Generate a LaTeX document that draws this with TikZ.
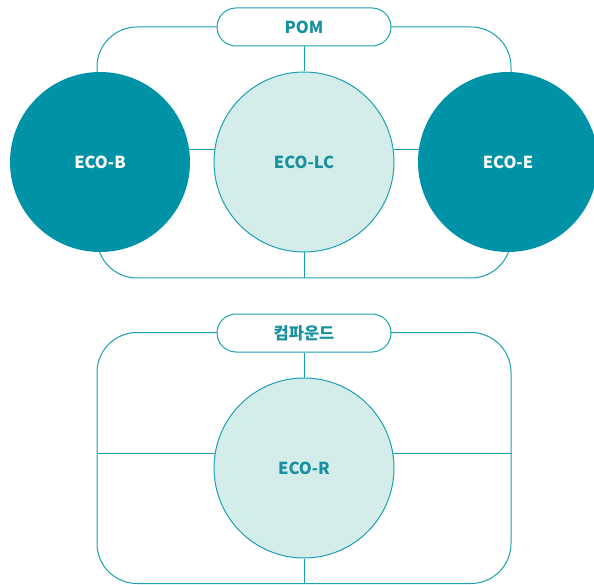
\documentclass[tikz,border=0pt]{standalone}
\usepackage{fontspec}
\setmainfont{Noto Sans CJK KR}
\newfontfamily\krfont{Noto Sans CJK KR}
\usetikzlibrary{positioning}
\definecolor{tealline}{HTML}{1BA0B2}
\definecolor{tealdark}{HTML}{0093A7}
\definecolor{teallight}{HTML}{D5EDEA}
\definecolor{tealtext}{HTML}{17909F}
\tikzset{
  frame/.style={draw=tealline, line width=1pt, rounded corners=40pt,
    minimum width=414pt, minimum height=251pt, inner sep=0pt},
  pill/.style={draw=tealline, fill=white, line width=1pt, rounded corners=19pt,
    minimum width=174pt, minimum height=38pt, text=tealtext,
    font=\bfseries\fontsize{16.5}{19}\selectfont},
  ecodark/.style={circle, fill=tealdark, minimum size=180pt, text=white,
    font=\bfseries\fontsize{16.5}{19}\selectfont},
  ecolight/.style={circle, draw=tealline, line width=1pt, fill=teallight,
    minimum size=180pt, text=tealtext, font=\bfseries\fontsize{16.5}{19}\selectfont},
  link/.style={draw=tealline, line width=1pt}
}
\begin{document}
\begin{tikzpicture}[x=1pt, y=-1pt]
    \useasboundingbox (0, 0) rectangle (594, 585);

    % upper group
    \node[frame] (topframe) at (304, 152.5) {};
    \node[pill] (pom) at (304, 27) {POM};
    \node[ecodark] (ecob) at (100, 162) {ECO-B};
    \node[ecolight] (ecolc) at (304, 162) {ECO-LC};
    \node[ecodark] (ecoe) at (508, 162) {ECO-E};
    \draw[link] (pom) -- (ecolc);
    \draw[link] (ecolc) -- (topframe.south);
    \draw[link] (ecob.8.3) -- (ecob.8.3 -| ecolc.171.7);
    \draw[link] (ecolc.8.3) -- (ecolc.8.3 -| ecoe.171.7);

    % lower group
    \node[frame] (botframe) at (304, 458) {};
    \node[pill] (compound) at (304, 333) {\krfont\bfseries 컴파운드};
    \node[ecolight] (ecor) at (304, 468) {ECO-R};
    \draw[link] (compound) -- (ecor);
    \draw[link] (ecor) -- (botframe.south);
    \draw[link] (ecor.171) -- (botframe.west |- ecor.171);
    \draw[link] (ecor.9) -- (botframe.east |- ecor.9);
\end{tikzpicture}
\end{document}
